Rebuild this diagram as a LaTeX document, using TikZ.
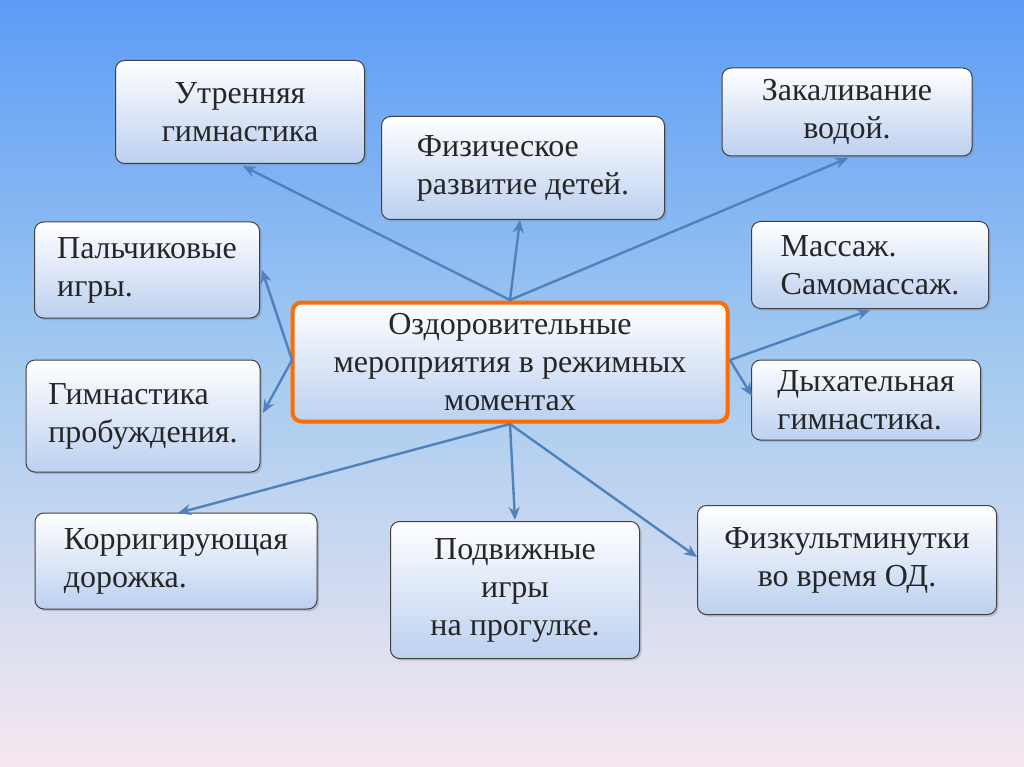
\documentclass[tikz,border=0pt]{standalone}
\usepackage{fontspec}
\setmainfont{Liberation Serif}
\usetikzlibrary{arrows.meta,shadows}
\definecolor{arr}{HTML}{4F81BD}
\definecolor{bord}{HTML}{404040}
\definecolor{boxbot}{HTML}{BCD0F0}
\definecolor{bgtop}{HTML}{5C9CF6}
\definecolor{bgmid}{HTML}{A8CCF0}
\definecolor{bgbot}{HTML}{F6E8F0}
\tikzset{
 box/.style={draw=bord,line width=1pt,rounded corners=9pt,top color=white,bottom color=boxbot,
  drop shadow={shadow xshift=2pt,shadow yshift=-2pt,opacity=0.35},font=\fontsize{32}{38}\selectfont,align=center,inner sep=0pt,text=black!85},
 conn/.style={draw=arr,line width=2.4pt,-{Stealth[length=13pt,width=11pt]}}
}
\begin{document}
\begin{tikzpicture}[x=1pt,y=-1pt]
\shade[top color=bgtop,bottom color=bgbot,middle color=bgmid] (0,0) rectangle (1024,767);
\useasboundingbox (0,0) rectangle (1024,767);
\node[box,minimum width=249pt,minimum height=103pt] (u) at (240,112) {Утренняя\\гимнастика};
\node[box,minimum width=283pt,minimum height=103pt,align=left] (f) at (523,168) {Физическое\\развитие детей.};
\node[box,minimum width=250pt,minimum height=88pt] (z) at (847,112) {Закаливание\\водой.};
\node[box,minimum width=225pt,minimum height=96pt,align=left] (p) at (147,270) {Пальчиковые\\ игры.};
\node[box,minimum width=237pt,minimum height=87pt,align=left] (m) at (870,265) {Массаж.\\Самомассаж.};
\node[box,draw=orange!85!red,line width=4pt,minimum width=435pt,minimum height=119pt] (c) at (510,362) {Оздоровительные\\мероприятия в режимных\\моментах};
\node[box,minimum width=234pt,minimum height=112pt,align=left] (g) at (143,416) {Гимнастика\\пробуждения.};
\node[box,minimum width=229pt,minimum height=80pt,align=left] (d) at (866,400) {Дыхательная\\гимнастика.};
\node[box,minimum width=282pt,minimum height=96pt,align=left] (k) at (176,561) {Корригирующая\\дорожка.};
\node[box,minimum width=249pt,minimum height=137pt] (pi) at (515,590) {Подвижные\\игры\\на прогулке.};
\node[box,minimum width=299pt,minimum height=109pt] (fk) at (847,560) {Физкультминутки\\во время ОД.};
\coordinate (ct) at (510,300);
\coordinate (cl) at (292,360);
\coordinate (cr) at (730,360);
\coordinate (cb) at (510,424);
\draw[conn] (ct) -- (243,166);
\draw[conn] (ct) -- (520,220);
\draw[conn] (ct) -- (848,158);
\draw[conn] (cl) -- (262,270);
\draw[conn] (cl) -- (263,413);
\draw[conn] (cr) -- (870,310);
\draw[conn] (cr) -- (752,396);
\draw[conn] (cb) -- (178,513);
\draw[conn] (cb) -- (515,520);
\draw[conn] (cb) -- (697,557);
\end{tikzpicture}
\end{document}
